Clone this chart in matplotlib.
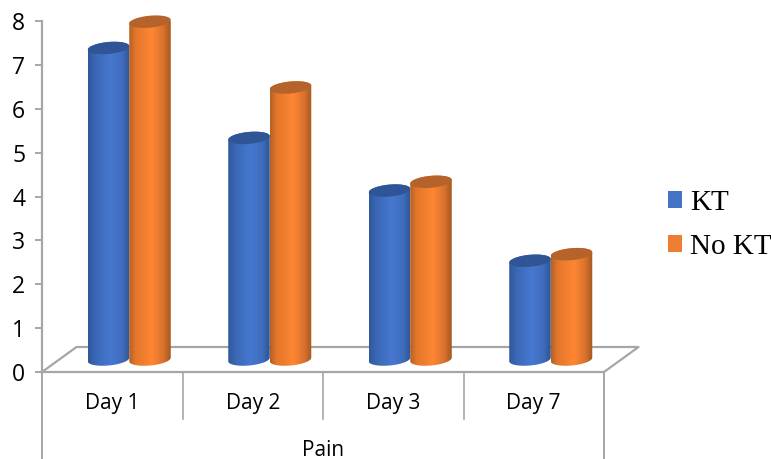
import numpy as np
import matplotlib
matplotlib.use('Agg')
import matplotlib.pyplot as plt
from matplotlib.colors import LinearSegmentedColormap
from matplotlib.patches import PathPatch, Patch, Polygon
from matplotlib.path import Path

days = ['Day 1', 'Day 2', 'Day 3', 'Day 7']
kt = [7.1, 5.05, 3.85, 2.25]
no_kt = [7.7, 6.2, 4.05, 2.4]
yticks = [0, 1, 2, 3, 4, 5, 6, 7, 8]

W, H = 771, 459
GREY = '#a6a6a6'

fig = plt.figure(figsize=(W / 100, H / 100), dpi=100)
ax = fig.add_axes([42 / W, (H - 372) / H, (604 - 42) / W, (372 - 21) / H])
ax.set_xlim(0, 4)
ax.set_ylim(0, 8)

# size of one pixel in data units
px_x = 4 / (604 - 42)
px_y = 8 / (372 - 21)

# floor depth of the fake 3d box
depth_x = 34.5 * px_x
depth_y = 25 * px_y

# cylinder geometry
bar_w = 41.5 * px_x
shift_x = 17 * px_x
base_y = 12.5 * px_y
cap_b = 6 * px_y
cap_tilt = 1.8 * px_y


def arc(xc, yc, t0, t1):
    t = np.linspace(t0, t1, 40)
    return np.column_stack([xc + bar_w / 2 * np.cos(t),
                            yc + cap_b * np.sin(t) + cap_tilt * np.cos(t)])


def cylinder(xc, value, cmap, cap_color, z):
    y0 = base_y
    y1 = base_y + value
    pts = np.vstack([arc(xc, y0, np.pi, 2 * np.pi), arc(xc, y1, 0, np.pi)])
    body = PathPatch(Path(np.vstack([pts, pts[0]])), fc='none', ec='none',
                     transform=ax.transData, clip_on=False)
    ax.add_patch(body)
    grad = np.linspace(0, 1, 128).reshape(1, -1)
    im = ax.imshow(grad, cmap=cmap, aspect='auto', zorder=z, interpolation='bilinear',
                   extent=[xc - bar_w / 2, xc + bar_w / 2, y0 - 2 * cap_b, y1 + 2 * cap_b])
    im.set_clip_path(body)
    ax.add_patch(Polygon(arc(xc, y1, 0, 2 * np.pi), closed=True, fc=cap_color, ec='none',
                         zorder=z + 0.1, clip_on=False))


blue_map = LinearSegmentedColormap.from_list('b', [(0, '#30589a'), (0.2, '#3c69b8'), (0.55, '#4778d0'),
                                                   (0.82, '#3f6dbd'), (1, '#2e5592')])
orange_map = LinearSegmentedColormap.from_list('o', [(0, '#b56026'), (0.15, '#e2762b'), (0.55, '#ff8633'),
                                                     (0.82, '#d9722c'), (1, '#a35820')])

# floor of the box
floor_x = [0, depth_x, 4 + depth_x, 4]
floor_y = [0, depth_y, depth_y, 0]
ax.plot(floor_x, floor_y, color=GREY, lw=1.6, clip_on=False, zorder=1)

for i in range(len(days)):
    xc = i + 0.5 + shift_x
    cylinder(xc - bar_w / 2, kt[i], blue_map, '#2f5597', 3)
    cylinder(xc + bar_w / 2, no_kt[i], orange_map, '#b5632a', 4)

ax.set_xlim(0, 4)
ax.set_ylim(0, 8)

for side in ['top', 'right']:
    ax.spines[side].set_visible(False)
for side in ['left', 'bottom']:
    ax.spines[side].set_color(GREY)
    ax.spines[side].set_linewidth(1.6)

ax.set_yticks(yticks)
ax.tick_params(axis='y', length=5, width=1.4, color=GREY, pad=7, labelsize=16.5, labelcolor='black')
for lab in ax.get_yticklabels():
    lab.set_family('Open Sans')
ax.set_xticks([])

# two-level category axis below the floor
drop_short = 47 * px_y
drop_long = 87 * px_y
for x in [1, 2, 3]:
    ax.plot([x, x], [0, -drop_short], color=GREY, lw=1.2, clip_on=False)
for x in [0, 4]:
    ax.plot([x, x], [0, -drop_long], color=GREY, lw=1.4, clip_on=False)

for i, d in enumerate(days):
    ax.text(i + 0.5, -32 * px_y, d, ha='center', va='center', fontsize=15, family='Open Sans', color='black')
ax.text(2, -78 * px_y, 'Pain', ha='center', va='center', fontsize=15, family='Open Sans', color='black')

handles = [Patch(fc='#4472c4', ec='none', label='KT'), Patch(fc='#ed7d31', ec='none', label='No KT')]
fig.legend(handles=handles, loc='upper left', bbox_to_anchor=(659 / W, (H - 181) / H), frameon=False,
           prop={'family': 'Liberation Serif', 'size': 21}, handlelength=0.48, handleheight=0.48,
           handletextpad=0.3, labelspacing=0.62, borderpad=0.3, borderaxespad=0)

fig.savefig('out.png', dpi=100)
